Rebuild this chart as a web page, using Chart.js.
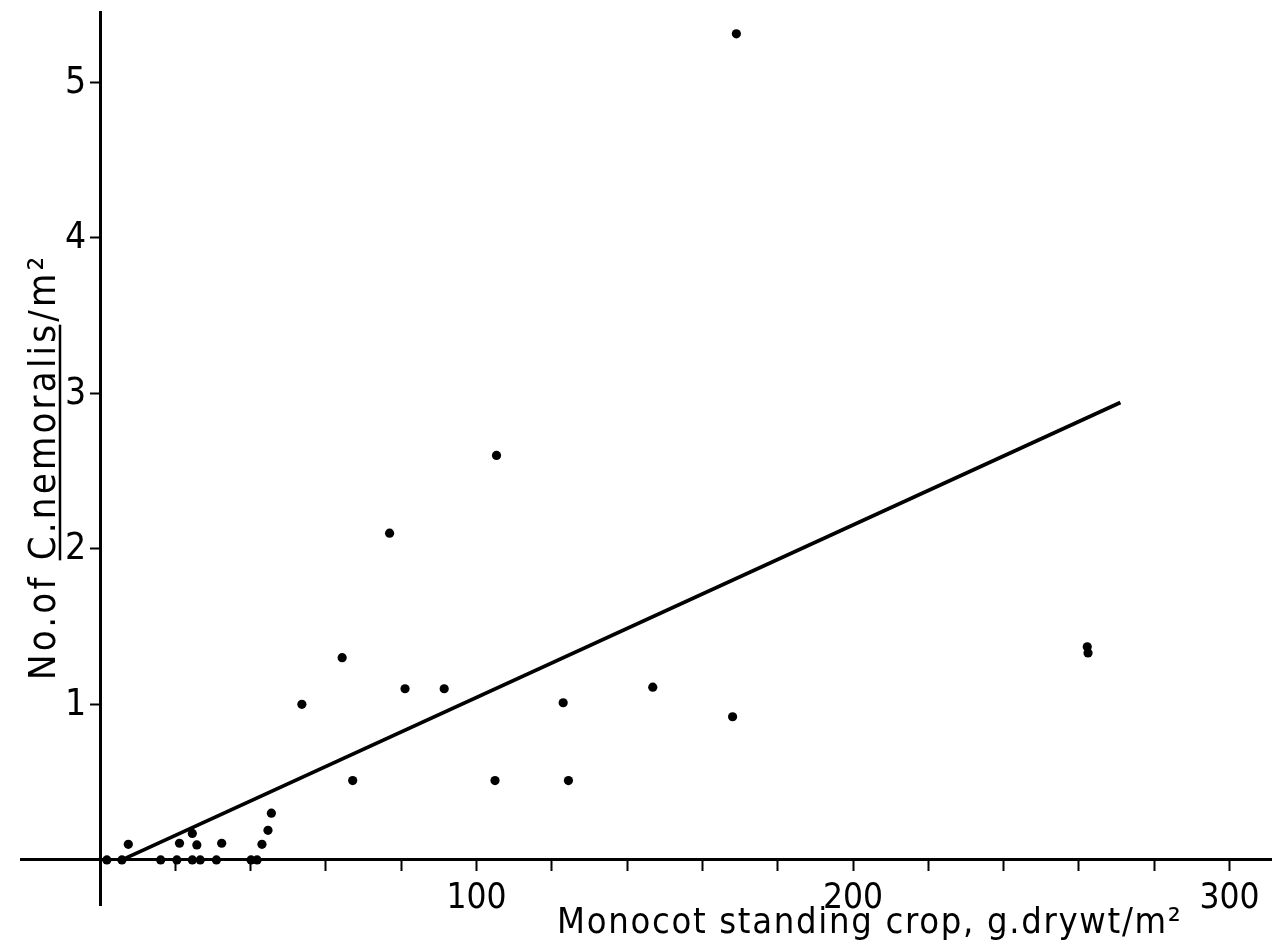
<!DOCTYPE html>
<html><head><meta charset="utf-8">
<script src="https://cdn.jsdelivr.net/npm/chart.js@4"></script>
<style>html,body{margin:0;padding:0;background:#fff;} canvas{display:block}</style>
</head><body>
<canvas id="c" width="1281" height="948"></canvas>
<script>
// ---- data ----
const cropX = [1.8, 5.8, 7.5, 16.1, 20.4, 21.1, 24.5, 25.7, 24.5, 26.6, 30.9, 32.3, 40.1, 41.7, 43.0, 44.6, 45.5,
               53.6, 64.3, 67.1, 76.9, 81.0, 91.4, 104.9, 105.3, 123.0, 124.4, 146.8, 168.0, 169.0, 262.2, 262.4];
const snailY = [0, 0, 0.10, 0, 0, 0.107, 0.17, 0.096, 0, 0, 0, 0.107, 0, 0, 0.10, 0.19, 0.30,
                1.00, 1.30, 0.51, 2.10, 1.10, 1.10, 0.51, 2.60, 1.01, 0.51, 1.11, 0.92, 5.31, 1.37, 1.33];
const fitX = [5.8, 271];
const fitY = [0, 2.94];
const xTickValues = [20, 40, 60, 80, 100, 120, 140, 160, 180, 200, 220, 240, 260, 280, 300];
const xTickLabels = ['100', '200', '300'];
const yTickValues = [1, 2, 3, 4, 5];
const yTickLabels = ['1', '2', '3', '4', '5'];
const xTitle = 'Monocot standing crop, g.drywt/m\u00B2';
const yTitleParts = ['No.of ', 'C.nemoralis', '/m\u00B2'];

const FONT = '"Liberation Sans Narrow", "DejaVu Sans Condensed", "Liberation Sans", sans-serif';

const titlePlugin = {
  id: 'titles',
  afterDraw(chart) {
    const ctx = chart.ctx;
    const xs = chart.scales.x, ys = chart.scales.y;
    ctx.save();
    ctx.fillStyle = '#000';
    ctx.strokeStyle = '#000';
    // y tick labels, placed left of the y axis (which sits at x = 0)
    ctx.font = '37px ' + FONT;
    ctx.textAlign = 'right';
    ctx.textBaseline = 'middle';
    const axisPx = xs.getPixelForValue(0);
    yTickValues.forEach((v, i) => {
      ctx.fillText(yTickLabels[i], axisPx - 14, ys.getPixelForValue(v) + 1);
    });
    // x title
    ctx.font = '36px ' + FONT;
    ctx.textAlign = 'left';
    ctx.textBaseline = 'alphabetic';
    ctx.letterSpacing = '1.7px';
    ctx.fillText(xTitle, 557, 933);
    // y title (rotated)
    ctx.translate(55, 680);
    ctx.rotate(-Math.PI / 2);
    ctx.font = '38px ' + FONT;
    ctx.letterSpacing = '3.2px';
    let x = 0;
    yTitleParts.forEach((p, i) => {
      ctx.fillText(p, x, 0);
      const w = ctx.measureText(p).width;
      if (i === 1) {
        ctx.lineWidth = 2.5;
        ctx.beginPath();
        ctx.moveTo(x, 5);
        ctx.lineTo(x + w - 3, 5);
        ctx.stroke();
      }
      x += w;
    });
    ctx.restore();
  }
};

new Chart(document.getElementById('c'), {
  type: 'scatter',
  data: {
    datasets: [
      {
        type: 'line',
        data: fitX.map((v, i) => ({ x: v, y: fitY[i] })),
        borderColor: '#000',
        borderWidth: 3.8,
        pointRadius: 0,
        fill: false
      },
      {
        data: cropX.map((v, i) => ({ x: v, y: snailY[i] })),
        backgroundColor: '#000',
        borderWidth: 0,
        pointRadius: 4.6
      }
    ]
  },
  options: {
    responsive: false,
    animation: false,
    devicePixelRatio: 1,
    layout: { padding: { left: 21, right: 10, top: 12, bottom: 43 } },
    plugins: { legend: { display: false }, tooltip: { enabled: false } },
    scales: {
      x: {
        type: 'linear',
        min: -21, max: 311,
        position: { y: 0 },
        border: { display: true, color: '#000', width: 3 },
        grid: { display: true, drawOnChartArea: false, drawTicks: true, tickLength: 10, tickColor: '#000', tickWidth: 2 },
        ticks: {
          color: '#000', font: { family: FONT, size: 35 }, padding: 8, maxRotation: 0, autoSkip: false,
          callback: v => xTickLabels.includes(String(v)) ? String(v) : ''
        },
        afterBuildTicks: s => { s.ticks = xTickValues.map(v => ({ value: v })); },
        afterFit: s => { s.height = 0; s.paddingLeft = 0; s.paddingRight = 0; }
      },
      y: {
        type: 'linear',
        min: -0.29, max: 5.45,
        position: { x: 0 },
        border: { display: true, color: '#000', width: 3 },
        grid: { display: true, drawOnChartArea: false, drawTicks: true, tickLength: 9, tickColor: '#000', tickWidth: 2 },
        ticks: { display: false, autoSkip: false },
        afterBuildTicks: s => { s.ticks = yTickValues.map(v => ({ value: v })); },
        afterFit: s => { s.width = 0; s.paddingTop = 0; s.paddingBottom = 0; }
      }
    }
  },
  plugins: [titlePlugin]
});
</script>
</body></html>
